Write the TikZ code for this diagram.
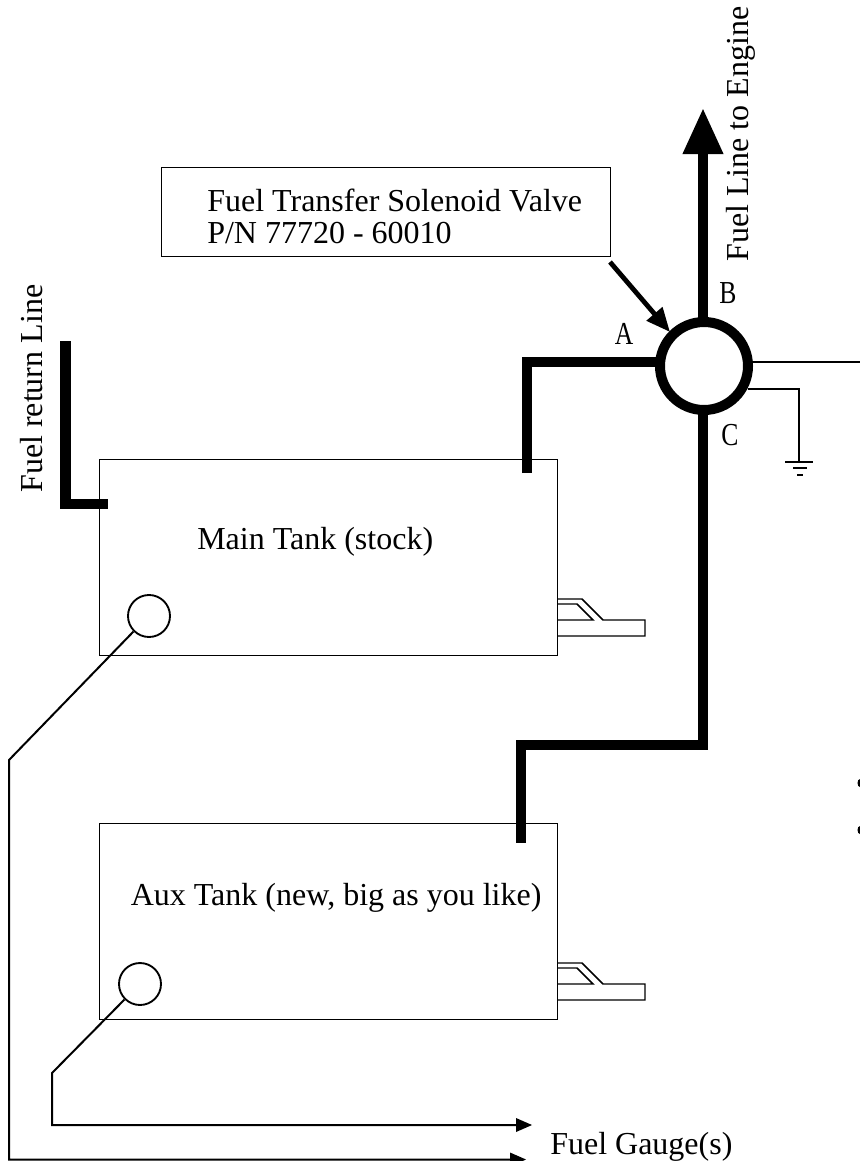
\documentclass[tikz,border=0pt]{standalone}
\usepackage{fontspec}
\setmainfont{Liberation Serif}
\usetikzlibrary{arrows.meta}
\tikzset{
  tank/.style={draw=black,line width=0.75pt,fill=white,inner sep=0,rectangle},
  fuel/.style={line width=7.5pt,line join=miter},
  wire/.style={line width=1.5pt,line join=miter},
  thin wire/.style={line width=1.1pt},
  gauge/.style={draw=black,line width=1.4pt,fill=white,circle,inner sep=0,minimum size=31.5pt},
  lbl/.style={font=\fontsize{24}{24}\selectfont,inner sep=0},
  port/.style={font=\fontsize{24}{24}\selectfont,inner sep=0,xscale=0.8},
}
\begin{document}
\begin{tikzpicture}[x=0.75pt,y=-0.75pt]
\path[use as bounding box] (0,0) rectangle (860,1161);
% tanks
\node[tank,minimum width=343.5pt,minimum height=147pt] (main) at (328,557) {};
\node[tank,minimum width=343.5pt,minimum height=147pt] (aux) at (328,921) {};
% filler necks
\foreach \dy in {0,364}{
  \begin{scope}[yshift=-\dy*0.75pt]
  \draw[thin wire,line join=miter] (557,599) -- (582,599) -- (603,620) -- (645,620) -- (645,636) -- (557,636);
  \draw[thin wire,line join=miter] (557,604) -- (577,604) -- (593,620) -- (557,620);
  \end{scope}
}
% return line
\coordinate (ret) at (65.5,341);
\coordinate (retend) at (108,504);
\draw[fuel,line width=8pt] (ret) |- (retend);
% valve
\coordinate (mainout) at (527,473);
\coordinate (auxout) at (521,843);
\coordinate (afoot) at (660,362);
\draw[fuel] (mainout) |- (afoot);
\coordinate (bknee) at (703,325);
\coordinate (ctop) at (703,405);
\coordinate (cmid) at (703,745);
\coordinate (cleft) at (521,745);
\draw[fuel] (ctop) -- (cmid) -- (cleft) -- (auxout);
\coordinate (btip) at (703,108);
\draw[line width=7.5pt,-{Triangle[length=34.5pt,width=28.5pt,inset=0pt]}] (bknee) -- (btip);
\node[draw=black,line width=7.5pt,circle,fill=white,inner sep=0,minimum size=66pt] (valve) at (704,366) {};
% electrical
\coordinate (eout) at (753,362);
\coordinate (eend) at (860,362);
\draw[wire] (eout) -- (eend);
\coordinate (g1) at (748,389);
\coordinate (g2) at (799,389);
\coordinate (g3) at (799,462);
\draw[wire,line width=1.3pt] (g1) -- (g2) -- (g3);
\draw[line width=1.5pt] (785,462) -- (813,462);
\draw[line width=1.5pt] (793,468) -- (807,468);
\draw[line width=1.5pt] (797,475) -- (803,475);
% label box
\node[tank,minimum width=336.75pt,minimum height=66.75pt] (lblbox) at (385.5,211.5) {};
\node[lbl,anchor=base west] (lbltext) at (207,211) {Fuel Transfer Solenoid Valve};
\node[lbl,anchor=base west] (lbltextb) at (207,243) {P/N 77720 - 60010};
\coordinate (vstart) at (610,262);
\coordinate (vtip) at (670,332);
\draw[line width=3.6pt,-{Triangle[length=18pt,width=15pt,inset=0pt]}] (vstart) -- (vtip);
% gauges
\node[gauge] (g-main) at (149,616) {};
\node[gauge] (g-aux) at (140,984) {};
\coordinate (w1a) at (9,760);
\coordinate (w1b) at (9,1159.5);
\coordinate (w1c) at (510,1159.5);
\coordinate (w1t) at (526,1159.5);
\coordinate (w2a) at (52,1073);
\coordinate (w2b) at (52,1125);
\coordinate (w2c) at (518,1125);
\coordinate (w2t) at (532,1125);
\draw[wire] (g-main.225) -- (w1a) -- (w1b) -- (w1c);
\fill (w1t) -- ++(-16,-7) -- ++(0,14) -- cycle;
\draw[wire] (g-aux.225) -- (w2a) -- (w2b) -- (w2c);
\fill (w2t) -- ++(-16,-7) -- ++(0,14) -- cycle;
% labels
\node[lbl,anchor=base west] (tmain) at (197,549) {Main Tank (stock)};
\node[lbl,anchor=base west] (taux) at (130.5,905) {Aux Tank (new, big as you like)};
\node[lbl,anchor=base west] (tgauge) at (550,1154.5) {Fuel Gauge(s)};
\node[lbl,rotate=90,anchor=base west] (tret) at (42,493) {Fuel return Line};
\node[lbl,rotate=90,anchor=base west] (teng) at (748,262) {Fuel Line to Engine};
\node[port,anchor=base] (la) at (624,344) {A};
\node[port,anchor=base] (lb) at (728,303) {B};
\node[port,anchor=base] (lc) at (730,445) {C};
% edge dots
\fill (860,783) ellipse (2.5 and 4);
\fill (860,830) ellipse (2.5 and 4);
\end{tikzpicture}
\end{document}
